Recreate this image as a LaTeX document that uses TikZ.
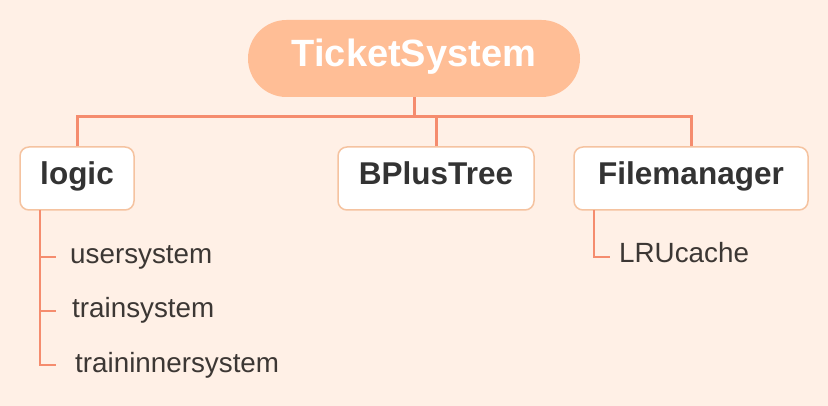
\documentclass[tikz,border=0pt]{standalone}
\usepackage{fontspec}
\setmainfont{Liberation Sans}
\definecolor{bgc}{RGB}{255,240,230}
\definecolor{rootc}{RGB}{255,190,150}
\definecolor{linec}{RGB}{245,140,110}
\definecolor{boxc}{RGB}{245,195,160}
\definecolor{txtc}{RGB}{51,51,51}
\definecolor{subc}{RGB}{60,55,52}
\begin{document}
\begin{tikzpicture}[x=1pt,y=-1pt,
  rootbox/.style={fill=rootc, draw=none, rounded corners=38.5pt, minimum width=332pt,
    text height=47pt, text depth=30pt, inner ysep=0pt, inner xsep=0pt, anchor=base,
    text=white, font=\fontsize{38}{40}\selectfont\bfseries},
  childbox/.style={fill=white, draw=boxc, line width=1.5pt, rounded corners=9pt,
    text height=38pt, text depth=25pt, inner ysep=0pt, inner xsep=0pt, anchor=base,
    text=txtc, font=\fontsize{31.5}{33}\selectfont\bfseries},
  subtxt/.style={anchor=base west, inner sep=0pt, text=subc, font=\fontsize{27.8}{29}\selectfont},
  conn/.style={draw=linec, line width=3pt},
  subconn/.style={draw=linec, line width=2pt}]
\useasboundingbox[fill=bgc] (0,0) rectangle (828,406);
\node[rootbox] (root) at (414,67) {TicketSystem};
\node[childbox, minimum width=114pt] (logic) at (77,185) {logic};
\node[childbox, minimum width=196pt] (bplus) at (436,185) {BPlusTree};
\node[childbox, minimum width=234pt] (file) at (691,185) {Filemanager};
\coordinate (bus) at (414,117);
\draw[conn] (root.south) -- (bus);
\draw[conn] (logic.north) -- (logic.north |- bus) -- (file.north |- bus) -- (file.north);
\draw[conn] (bplus.north) -- (bplus.north |- bus);
% logic sub-items
\node[subtxt] (user) at (70,264) {usersystem};
\node[subtxt] (train) at (72,317) {trainsystem};
\node[subtxt] (inner) at (75,372) {traininnersystem};
\coordinate (ls) at (40,210);
\coordinate (t1) at (56,257);
\coordinate (t2) at (56,311);
\coordinate (t3) at (56,365);
\draw[subconn] (ls) |- (t3);
\draw[subconn] (ls |- t1) -- (t1);
\draw[subconn] (ls |- t2) -- (t2);
% filemanager sub-item
\node[subtxt] (lru) at (619,263) {LRUcache};
\coordinate (fs) at (594,210);
\coordinate (t4) at (610,257);
\draw[subconn] (fs) |- (t4);
\end{tikzpicture}
\end{document}
